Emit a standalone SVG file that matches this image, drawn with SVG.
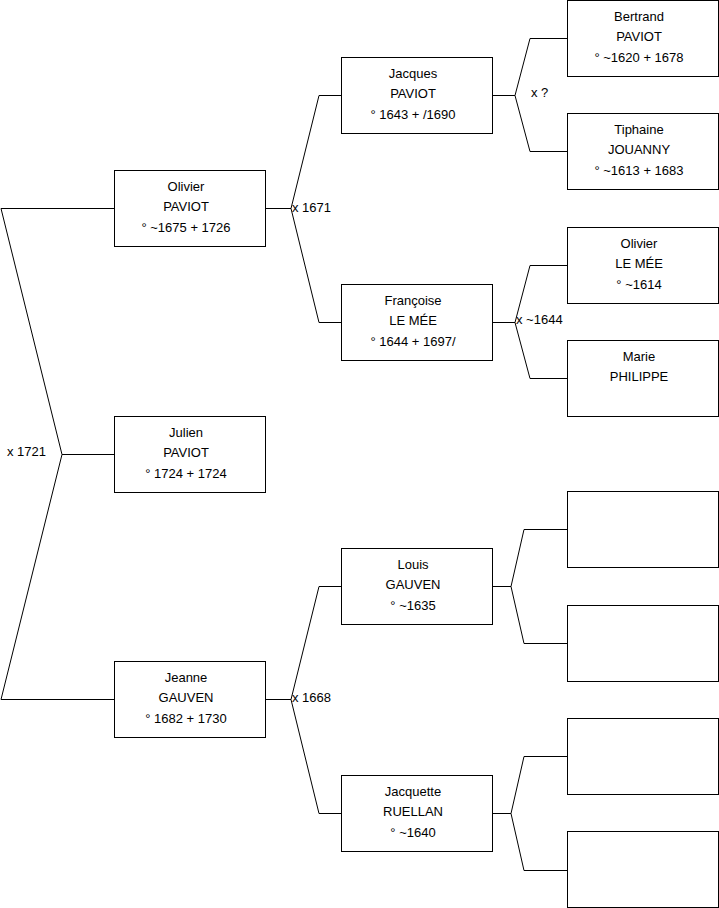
<svg xmlns="http://www.w3.org/2000/svg" width="719" height="908" viewBox="0 0 719 908">
<style>
.box{fill:#fff;stroke:#000;stroke-width:1}
.t{font-family:"Liberation Sans",Arial,sans-serif;font-size:13px;fill:#000;text-anchor:middle}
.l{font-family:"Liberation Sans",Arial,sans-serif;font-size:13px;fill:#000}
.c{fill:none;stroke:#000;stroke-width:1}
</style>
<rect width="719" height="908" fill="#fff"/>
<g id="connectors">
<polyline class="c" points="114,208.5 1,208.5 62,454.5 1,699.5 114,699.5"/>
<line class="c" x1="62" y1="454.5" x2="114" y2="454.5"/>
<polyline class="c" points="341,95.5 319,95.5 291,208.5 319,322.5 341,322.5"/>
<line class="c" x1="265" y1="208.5" x2="291" y2="208.5"/>
<polyline class="c" points="341,586.5 319,586.5 291,699.5 319,813.5 341,813.5"/>
<line class="c" x1="265" y1="699.5" x2="291" y2="699.5"/>
<polyline class="c" points="567,38.5 530,38.5 515,95.5 530,151.5 567,151.5"/>
<line class="c" x1="492" y1="95.5" x2="515" y2="95.5"/>
<polyline class="c" points="567,265.5 530,265.5 515,322.5 530,378.5 567,378.5"/>
<line class="c" x1="492" y1="322.5" x2="515" y2="322.5"/>
<polyline class="c" points="567,529.5 524,529.5 511,586.5 524,643.5 567,643.5"/>
<line class="c" x1="492" y1="586.5" x2="511" y2="586.5"/>
<polyline class="c" points="567,756.5 524,756.5 511,813.5 524,870.5 567,870.5"/>
<line class="c" x1="492" y1="813.5" x2="511" y2="813.5"/>
<text class="l" x="7" y="456">x 1721</text>
<text class="l" x="292" y="212">x 1671</text>
<text class="l" x="292" y="702">x 1668</text>
<text class="l" x="531" y="97">x ?</text>
<text class="l" x="516" y="324">x ~1644</text>
</g>
<g id="olivier-paviot"><rect class="box" x="114.5" y="170.5" width="151" height="76"/><text class="t" x="186" y="191">Olivier</text><text class="t" x="186" y="211">PAVIOT</text><text class="t" x="186" y="232">° ~1675 + 1726</text></g>
<g id="julien-paviot"><rect class="box" x="114.5" y="416.5" width="151" height="76"/><text class="t" x="186" y="437">Julien</text><text class="t" x="186" y="457">PAVIOT</text><text class="t" x="186" y="478">° 1724 + 1724</text></g>
<g id="jeanne-gauven"><rect class="box" x="114.5" y="661.5" width="151" height="76"/><text class="t" x="186" y="682">Jeanne</text><text class="t" x="186" y="702">GAUVEN</text><text class="t" x="186" y="723">° 1682 + 1730</text></g>
<g id="jacques-paviot"><rect class="box" x="341.5" y="57.5" width="151" height="76"/><text class="t" x="413" y="78">Jacques</text><text class="t" x="413" y="98">PAVIOT</text><text class="t" x="413" y="119">° 1643 + /1690</text></g>
<g id="francoise-le-mee"><rect class="box" x="341.5" y="284.5" width="151" height="76"/><text class="t" x="413" y="305">Françoise</text><text class="t" x="413" y="325">LE MÉE</text><text class="t" x="413" y="346">° 1644 + 1697/</text></g>
<g id="louis-gauven"><rect class="box" x="341.5" y="548.5" width="151" height="76"/><text class="t" x="413" y="569">Louis</text><text class="t" x="413" y="589">GAUVEN</text><text class="t" x="413" y="610">° ~1635</text></g>
<g id="jacquette-ruellan"><rect class="box" x="341.5" y="775.5" width="151" height="76"/><text class="t" x="413" y="796">Jacquette</text><text class="t" x="413" y="816">RUELLAN</text><text class="t" x="413" y="837">° ~1640</text></g>
<g id="bertrand-paviot"><rect class="box" x="567.5" y="0.5" width="151" height="76"/><text class="t" x="639" y="21">Bertrand</text><text class="t" x="639" y="41">PAVIOT</text><text class="t" x="639" y="62">° ~1620 + 1678</text></g>
<g id="tiphaine-jouanny"><rect class="box" x="567.5" y="113.5" width="151" height="76"/><text class="t" x="639" y="134">Tiphaine</text><text class="t" x="639" y="154">JOUANNY</text><text class="t" x="639" y="175">° ~1613 + 1683</text></g>
<g id="olivier-le-mee"><rect class="box" x="567.5" y="227.5" width="151" height="76"/><text class="t" x="639" y="248">Olivier</text><text class="t" x="639" y="268">LE MÉE</text><text class="t" x="639" y="289">° ~1614</text></g>
<g id="marie-philippe"><rect class="box" x="567.5" y="340.5" width="151" height="76"/><text class="t" x="639" y="361">Marie</text><text class="t" x="639" y="381">PHILIPPE</text></g>
<g id="empty-1"><rect class="box" x="567.5" y="491.5" width="151" height="76"/></g>
<g id="empty-2"><rect class="box" x="567.5" y="605.5" width="151" height="76"/></g>
<g id="empty-3"><rect class="box" x="567.5" y="718.5" width="151" height="76"/></g>
<g id="empty-4"><rect class="box" x="567.5" y="831.5" width="151" height="76"/></g>
</svg>
